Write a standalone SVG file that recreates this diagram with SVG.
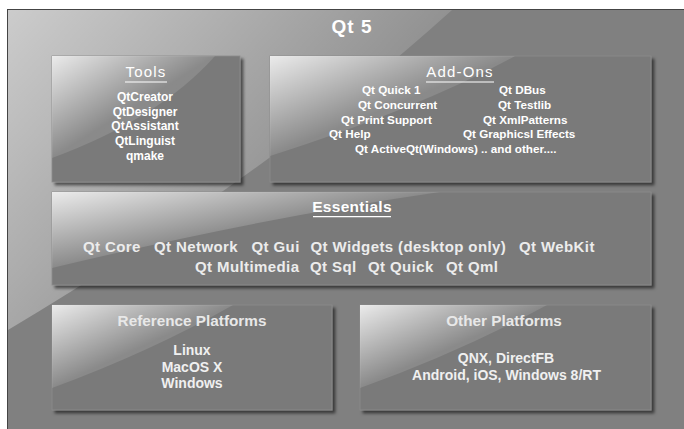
<svg xmlns="http://www.w3.org/2000/svg" width="684" height="429" viewBox="0 0 684 429">
<defs>
<linearGradient id="outerGloss" gradientUnits="userSpaceOnUse" x1="8" y1="9" x2="290" y2="260">
<stop offset="0" stop-color="#fff" stop-opacity="0.6"/>
<stop offset="1" stop-color="#fff" stop-opacity="0.08"/>
</linearGradient>
<linearGradient id="gloss" x1="0" y1="0" x2="0.5" y2="0.5">
<stop offset="0" stop-color="#fff" stop-opacity="0.85"/>
<stop offset="1" stop-color="#fff" stop-opacity="0.12"/>
</linearGradient>
<filter id="shadow" x="-5%" y="-5%" width="115%" height="120%">
<feDropShadow dx="3" dy="3" stdDeviation="1.5" flood-color="#000" flood-opacity="0.55"/>
</filter>
</defs>
<style>
.box{fill:#7a7a7a;stroke:#8c8c8c;stroke-width:0.8;filter:url(#shadow)}
.gl{fill:url(#gloss)}
text{font-family:"Liberation Sans",Arial,sans-serif;fill:#fff}
.ttl{font-size:15px;letter-spacing:1.2px;text-anchor:middle}
.it{font-size:12px;font-weight:bold;text-anchor:middle}
.ad{font-size:11.7px;font-weight:bold}
.es{font-size:15px;font-weight:bold;fill:#ececec;letter-spacing:0.4px}
.pt{font-size:15.3px;font-weight:bold;fill:#e8e8e8;text-anchor:middle}
.pi{font-size:14px;font-weight:bold;fill:#f0f0f0;text-anchor:middle}
.ul{stroke:#fff;stroke-width:1.2}
</style>
<rect x="0" y="0" width="684" height="429" fill="#fff"/>
<rect id="frame" x="7.5" y="9.5" width="680" height="425" fill="#808080" stroke="#444" stroke-width="1"/>
<path d="M8,10 L452,10 Q274,171 8,330 Z" fill="url(#outerGloss)"/>
<text x="352" y="33" style="font-size:19px;font-weight:bold;letter-spacing:1px;text-anchor:middle">Qt 5</text>

<g id="tools">
<rect class="box" x="52" y="56" width="188" height="126"/>
<path class="gl" d="M52,56 L215,56 Q160,118 52,158 Z"/>
<text class="ttl" x="146" y="77">Tools</text>
<line class="ul" x1="125" y1="82" x2="167" y2="82"/>
<text class="it" x="145" y="100.7">QtCreator</text>
<text class="it" x="145" y="115.5">QtDesigner</text>
<text class="it" x="145" y="130.3">QtAssistant</text>
<text class="it" x="145" y="145">QtLinguist</text>
<text class="it" x="145" y="159.5">qmake</text>
</g>

<g id="addons">
<rect class="box" x="270" y="56" width="381" height="126"/>
<path class="gl" d="M270,56 L515,56 Q420,108 270,156 Z"/>
<text class="ttl" x="460" y="77">Add-Ons</text>
<line class="ul" x1="426" y1="82" x2="494" y2="82"/>
<text class="ad" x="362" y="94.3">Qt Quick 1</text>
<text class="ad" x="358" y="109">Qt Concurrent</text>
<text class="ad" x="341" y="123.5">Qt Print Support</text>
<text class="ad" x="329" y="138">Qt Help</text>
<text class="ad" x="355" y="152.7">Qt ActiveQt(Windows) .. and other....</text>
<text class="ad" x="499" y="94.3">Qt DBus</text>
<text class="ad" x="498" y="109">Qt Testlib</text>
<text class="ad" x="483" y="123.5">Qt XmlPatterns</text>
<text class="ad" x="463" y="138">Qt Graphicsl Effects</text>
</g>

<g id="essentials">
<rect class="box" x="52" y="192" width="599" height="93"/>
<path class="gl" d="M52,192 L440,192 Q260,218 52,268 Z"/>
<text x="352" y="212.3" style="font-size:15.5px;font-weight:bold;text-anchor:middle;letter-spacing:0.3px">Essentials</text>
<line class="ul" x1="313" y1="216.7" x2="391" y2="216.7"/>
<text class="es" x="83" y="251.7">Qt Core</text>
<text class="es" x="154" y="251.7">Qt Network</text>
<text class="es" x="251.5" y="251.7">Qt Gui</text>
<text class="es" x="310.5" y="251.7">Qt Widgets (desktop only)</text>
<text class="es" x="519" y="251.7">Qt WebKit</text>
<text class="es" x="195" y="271.7">Qt Multimedia</text>
<text class="es" x="310" y="271.7">Qt Sql</text>
<text class="es" x="368" y="271.7">Qt Quick</text>
<text class="es" x="446" y="271.7">Qt Qml</text>
</g>

<g id="refplatforms">
<rect class="box" x="52" y="305" width="280" height="105"/>
<path class="gl" d="M52,305 L233,305 Q150,352 52,388 Z"/>
<text class="pt" x="192" y="326">Reference Platforms</text>
<text class="pi" x="192" y="355">Linux</text>
<text class="pi" x="192" y="372">MacOS X</text>
<text class="pi" x="192" y="388.3">Windows</text>
</g>

<g id="otherplatforms">
<rect class="box" x="360" y="305" width="291" height="105"/>
<path class="gl" d="M360,305 L547,305 Q460,352 360,388 Z"/>
<text class="pt" x="504" y="326">Other Platforms</text>
<text class="pi" x="506" y="362.7">QNX, DirectFB</text>
<text class="pi" x="506.5" y="380">Android, iOS, Windows 8/RT</text>
</g>
<g id="connectors"/>
</svg>
